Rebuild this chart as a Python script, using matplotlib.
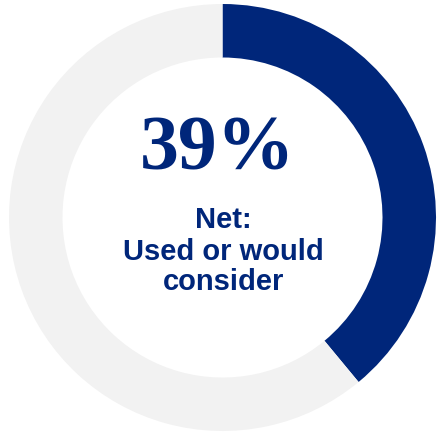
import matplotlib.pyplot as plt

# Dados
share = [39, 61]
colors = ['#00267A', '#F2F2F2']
big_label = '39%'
sub_lines = ['Net:', 'Used or would', 'consider']

W, H = 443, 433
fig = plt.figure(figsize=(W / 100, H / 100), dpi=100)
ax = fig.add_axes([0, 0, 1, 1])
ax.set_xlim(0, W)
ax.set_ylim(0, H)
ax.set_aspect('equal')
ax.axis('off')

cx, cy = 222.5, H - 217.5
ax.pie(share, colors=colors, startangle=90, counterclock=False,
       center=(cx, cy), radius=213.5,
       wedgeprops=dict(width=53.5, edgecolor='none'))
ax.set_xlim(0, W)
ax.set_ylim(0, H)

navy = '#00267A'
ax.text(218, H - 170, big_label, ha='center', va='baseline',
        fontsize=56, fontweight='bold', family='Liberation Serif', color=navy)

baselines = [228, 260, 290]
for line, b in zip(sub_lines, baselines):
    ax.text(cx + 1, H - b, line, ha='center', va='baseline',
            fontsize=21, fontweight='bold', family='Liberation Sans', color=navy)

fig.savefig('out.png', dpi=100)
